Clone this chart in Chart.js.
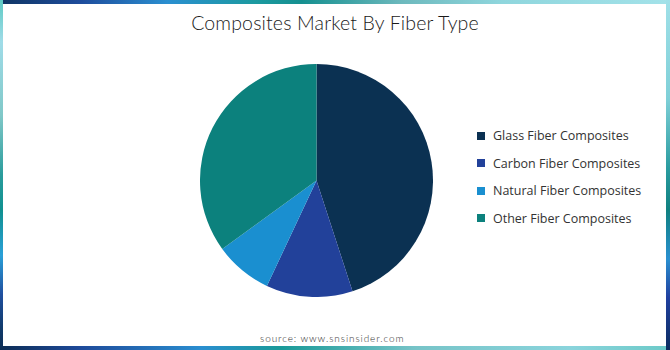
<!DOCTYPE html>
<html>
<head>
<meta charset="utf-8">
<script src="https://cdn.jsdelivr.net/npm/chart.js@4.4.1/dist/chart.umd.min.js"></script>
<style>
  body { margin: 0; background: #fff; }
  #frame { position: relative; width: 670px; height: 350px; overflow: hidden; background: #fff; }
  .strip { position: absolute; }
  #top { left: 0; top: 0; width: 670px; height: 4px;
    background: linear-gradient(to right, #0f3563 0%, #1e4c9c 12%, #2a8fd0 25%, #1c9aa0 38%, #159090 45%, #6db9bd 60%, #8fd6dd 75%, #a3e2e9 100%); }
  #bottom { left: 0; bottom: 0; width: 670px; height: 4px;
    background: linear-gradient(to right, #0d2d55 0%, #1e4a9a 12%, #2a8ed0 30%, #1a9a98 42%, #77c4c8 62%, #8ad4dc 85%, #6ccac8 100%); }
  #left { left: 0; top: 0; width: 3px; height: 350px;
    background: linear-gradient(to bottom, #5ecac4 0%, #a0dce8 12%, #80c8c8 33%, #2a9c9c 50%, #109090 60%, #2aa0d8 73%, #2050a0 84%, #103a6a 94%, #0d2d55 100%); }
  #right { right: 0; top: 0; width: 4px; height: 350px;
    background: linear-gradient(to bottom, #a0e0e8 0%, #80d0d8 28%, #2a9ca0 48%, #108080 60%, #2a90d0 74%, #2040a0 85%, #0d2d60 100%); }
  #panel { position: absolute; left: 3px; top: 4px; width: 663px; height: 342px; background: #fff; border-radius: 3px; }
  #title { position: absolute; left: 0; top: 11px; width: 670px; text-align: center;
    font-family: Lato, sans-serif; font-weight: 300; font-size: 19.5px; color: #1a1a1a; letter-spacing: 0.15px; }
  #source { position: absolute; left: 260px; top: 332px; font-family: Lato, sans-serif; font-weight: 300;
    font-size: 10px; color: #333; letter-spacing: 0.9px; }
  #pieBox { position: absolute; left: 200px; top: 64px; width: 233px; height: 233px; }
  #legend { position: absolute; left: 477px; top: 122px; font-family: "Open Sans", sans-serif;
    font-size: 12.5px; color: #333; }
  .item { height: 27.5px; display: flex; align-items: center; white-space: nowrap; }
  .box { width: 8px; height: 8px; margin-right: 8px; }
</style>
</head>
<body>
<div id="frame">
  <div class="strip" id="top"></div>
  <div class="strip" id="bottom"></div>
  <div class="strip" id="left"></div>
  <div class="strip" id="right"></div>
  <div id="panel"></div>
  <div id="title">Composites Market By Fiber Type</div>
  <div id="pieBox"><canvas id="pieChart"></canvas></div>
  <div id="legend"></div>
  <div id="source">source: www.snsinsider.com</div>
</div>
<script>
var fiberTypes = ['Glass Fiber Composites', 'Carbon Fiber Composites', 'Natural Fiber Composites', 'Other Fiber Composites'];
var shareValues = [45, 12, 8, 35];
var sliceColors = ['#0b3152', '#22419a', '#1a8fd0', '#0c817d'];

var legendHtml = '';
for (var i = 0; i < fiberTypes.length; i++) {
    legendHtml += '<div class="item"><span class="box" style="background:' + sliceColors[i] + '"></span>' + fiberTypes[i] + '</div>';
}
document.getElementById('legend').innerHTML = legendHtml;

var pieChart = new Chart(document.getElementById('pieChart'), {
    type: 'pie',
    data: {
        labels: fiberTypes,
        datasets: [{
            data: shareValues,
            backgroundColor: sliceColors,
            borderWidth: 0
        }]
    },
    options: {
        responsive: true,
        maintainAspectRatio: false,
        animation: false,
        layout: { padding: 0 },
        plugins: {
            legend: { display: false },
            tooltip: { enabled: false }
        }
    }
});
</script>
</body>
</html>
